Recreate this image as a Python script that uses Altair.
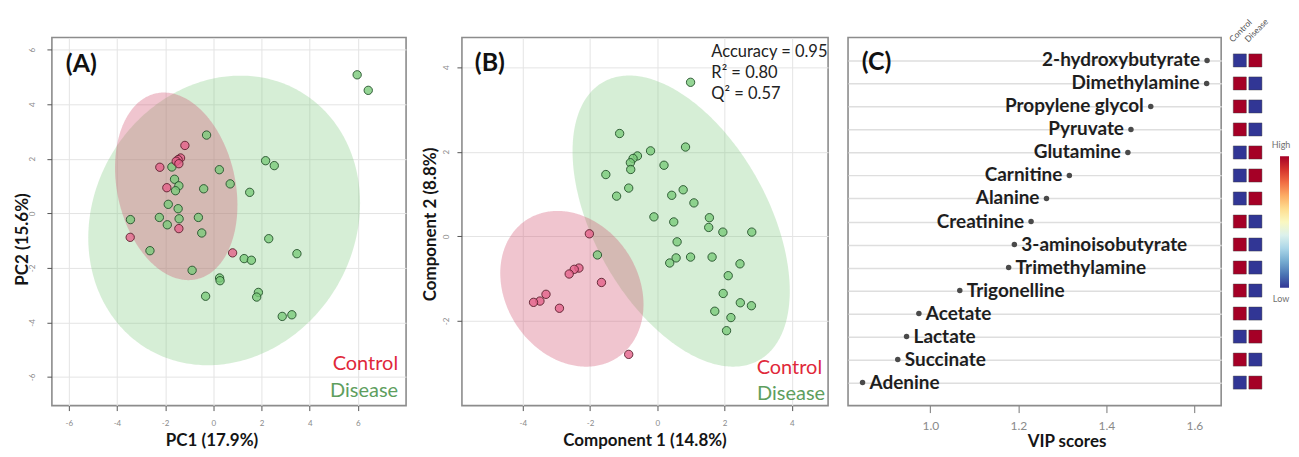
import numpy as np
import pandas as pd
import altair as alt

FONT = "Lato"

# ---------------- Panel A (PCA scores) ----------------
a_ctrl_x = [-1.18, -1.36, -1.46, -1.54, -1.43, -2.22, -1.93, -1.43, -3.45, 0.80]
a_ctrl_y = [2.49, 2.03, 1.97, 1.91, 1.82, 1.69, 0.94, -0.56, -0.88, -1.45]
a_dis_x = [5.97, 6.43, -0.28, 2.17, 2.53, -1.72, 0.25, -1.61, -1.43, -1.57,
           -0.40, 0.70, 1.51, -1.87, -1.46, -2.24, -1.42, -0.62, -3.44, -1.91,
           -0.48, 2.30, -2.63, 3.47, 1.28, 1.58, -0.88, 0.26, 0.28, 1.87,
           1.80, -0.32, 2.86, 3.26]
a_dis_y = [5.08, 4.51, 2.87, 1.93, 1.75, 1.70, 1.60, 1.25, 1.01, 0.83,
           0.90, 1.08, 0.77, 0.33, 0.17, -0.15, -0.20, -0.15, -0.23, -0.42,
           -0.72, -0.93, -1.37, -1.48, -1.66, -1.72, -2.09, -2.37, -2.47, -2.90,
           -3.07, -3.04, -3.78, -3.72]
# ellipse estimates: centre x, centre y, x half-extent, y half-extent, correlation
a_ell_ctrl = [-1.54, 0.99, 2.54, 3.44, -0.20]
a_ell_dis = [0.45, -0.26, 5.64, 5.31, 0.12]

# ---------------- Panel B (PLS-DA scores) ----------------
b_ctrl_x = [-2.02, -1.66, -2.33, -2.47, -2.62, -3.31, -3.49, -3.68, -2.91, -0.85]
b_ctrl_y = [0.06, -1.09, -0.75, -0.78, -0.89, -1.37, -1.53, -1.56, -1.70, -2.79]
b_dis_x = [0.99, -1.12, 0.84, -0.20, -0.59, -0.72, -0.80, -0.79, 0.20, -1.53,
           -0.85, -1.21, 0.43, 0.77, 1.09, -0.10, 1.55, 0.49, 1.53, 1.95,
           2.81, 0.59, -1.78, 0.56, 0.99, 0.37, 1.63, 2.46, 2.11, 1.96,
           2.47, 2.80, 1.71, 2.19, 2.06]
b_dis_y = [3.64, 2.43, 2.11, 2.02, 1.90, 1.84, 1.74, 1.58, 1.68, 1.46,
           1.14, 0.95, 0.97, 1.10, 0.79, 0.46, 0.44, 0.34, 0.21, 0.10,
           0.10, -0.13, -0.44, -0.51, -0.49, -0.63, -0.49, -0.65, -0.93, -1.35,
           -1.57, -1.64, -1.77, -1.92, -2.23]
b_ell_ctrl = [-2.54, -1.24, 2.13, 1.84, -0.20]
b_ell_dis = [0.71, 0.36, 3.23, 3.44, -0.48]
b_stats = ["Accuracy = 0.95", "R\u00b2 = 0.80", "Q\u00b2 = 0.57"]

# ---------------- Panel C (VIP scores) ----------------
metabolites = ["2-hydroxybutyrate", "Dimethylamine", "Propylene glycol", "Pyruvate",
               "Glutamine", "Carnitine", "Alanine", "Creatinine", "3-aminoisobutyrate",
               "Trimethylamine", "Trigonelline", "Acetate", "Lactate", "Succinate", "Adenine"]
vip = [1.629, 1.628, 1.501, 1.456, 1.449, 1.316, 1.264, 1.229, 1.191,
       1.178, 1.067, 0.974, 0.946, 0.926, 0.846]
control_level = [0, 1, 1, 1, 0, 0, 0, 1, 1, 1, 1, 1, 0, 1, 0]
disease_level = [1, 0, 0, 0, 1, 1, 1, 0, 0, 0, 0, 0, 1, 0, 1]
groups = ["Control", "Disease"]


def ellipse(p, n=181):
    cx, cy, sx, sy, rho = p
    t = np.linspace(0.0, np.pi, n)
    c = np.cos(t)
    s = np.sin(t)
    k = np.sqrt(1.0 - rho ** 2)
    return pd.DataFrame({"x": cx + sx * c,
                         "y": cy + sy * (rho * c + k * s),
                         "y2": cy + sy * (rho * c - k * s)})


def points(cx, cy, dx, dy):
    return pd.DataFrame({"x": list(dx) + list(cx), "y": list(dy) + list(cy),
                         "group": ["Disease"] * len(dx) + ["Control"] * len(cx)})


def label(txt, px, py, size, color, align="left", weight="normal"):
    return alt.Chart(pd.DataFrame({"t": [txt]})).mark_text(
        align=align, baseline="middle", fontSize=size, font=FONT,
        color=color, fontWeight=weight).encode(
        text="t:N", x=alt.value(px), y=alt.value(py))


pt_fill = alt.Scale(domain=groups, range=["#e3628a", "#7acb7a"])
pt_stroke = alt.Scale(domain=groups, range=["#5a1f2c", "#24502a"])

H = 369
TITLE = 17


def scatter_panel(pts_df, ell_dis, ell_ctrl, xdom, ydom, xvals, yvals, xtitle, ytitle,
                  y_ext, y_lp, x_ext, x_lp, x_title_x, y_title_y):
    xs = alt.Scale(domain=xdom, nice=False, zero=False)
    ys = alt.Scale(domain=ydom, nice=False, zero=False)
    common = dict(grid=True, gridColor="#e4e4e4", gridWidth=1, domain=False,
                  ticks=True, tickColor="#555555", tickSize=5, tickWidth=1,
                  labelColor="#8a8a8a", labelFontSize=8, labelFont=FONT,
                  titleFont=FONT, titleFontSize=TITLE, titleFontWeight="bold",
                  titleColor="#151515", titlePadding=0,
                  labelExpr="replace(datum.label, '\u2212', '-')")
    xax = alt.Axis(values=xvals, title=xtitle, labelPadding=x_lp, titleX=x_title_x,
                   minExtent=x_ext, maxExtent=x_ext, **common)
    yax = alt.Axis(values=yvals, title=ytitle, labelAngle=270, labelAlign="center",
                   labelBaseline="bottom", labelPadding=y_lp, titleY=y_title_y,
                   minExtent=y_ext, maxExtent=y_ext, **common)
    dis_area = alt.Chart(ellipse(ell_dis)).mark_area(color="#78c878", opacity=0.30).encode(
        x=alt.X("x:Q", scale=xs, axis=xax), y=alt.Y("y:Q", scale=ys, axis=yax), y2="y2:Q")
    ctrl_area = alt.Chart(ellipse(ell_ctrl)).mark_area(color="#d2506e", opacity=0.33).encode(
        x="x:Q", y="y:Q", y2="y2:Q")
    pts = alt.Chart(pts_df).mark_circle(size=70, fillOpacity=0.8, strokeOpacity=0.9,
                                        strokeWidth=1).encode(
        x="x:Q", y="y:Q",
        fill=alt.Fill("group:N", scale=pt_fill, legend=None),
        stroke=alt.Stroke("group:N", scale=pt_stroke, legend=None))
    return [dis_area, ctrl_area, pts]


# Panel A
A_layers = scatter_panel(points(a_ctrl_x, a_ctrl_y, a_dis_x, a_dis_y),
                         a_ell_dis, a_ell_ctrl, [-6.7, 8.0], [-7.05, 6.45],
                         [-6, -4, -2, 0, 2, 4, 6], [-6, -4, -2, 0, 2, 4, 6],
                         "PC1 (17.9%)", "PC2 (15.6%)", 20, 10, 27, 9, 160, 202)
A = alt.layer(*A_layers,
              label("(A)", 29.5, 27, 25, "#111111", "center", "bold"),
              label("Control", 347, 327, 20, "#e0283a", "right"),
              label("Disease", 347, 354, 20, "#5e9e5e", "right")
              ).properties(width=355, height=H)

# Panel B
B_layers = scatter_panel(points(b_ctrl_x, b_ctrl_y, b_dis_x, b_dis_y),
                         b_ell_dis, b_ell_ctrl, [-5.81, 5.08], [-4.0, 4.7],
                         [-4, -2, 0, 2, 4], [-2, 0, 2, 4],
                         "Component 1 (14.8%)", "Component 2 (8.8%)", 23, 6, 27, 9,
                         183, 187)
B = alt.layer(*B_layers,
              label("(B)", 28, 26, 25, "#111111", "center", "bold"),
              label(b_stats[0], 250, 15, 16.5, "#222222"),
              label(b_stats[1], 250, 36, 16.5, "#222222"),
              label(b_stats[2], 250, 57, 16.5, "#222222"),
              label("Control", 361, 331, 20, "#e0283a", "right"),
              label("Disease", 364, 357, 20, "#5e9e5e", "right")
              ).properties(width=367, height=H)

# Panel C
vip_df = pd.DataFrame({"metabolite": metabolites, "vip": vip, "idx": list(range(len(vip)))})
yc = alt.Scale(type="point", domain=metabolites, padding=1)
xc = alt.Scale(domain=[0.813, 1.661], nice=False, zero=False)
c_base = alt.Chart(vip_df)
c_dots = c_base.mark_circle(size=30, color="#4a4a4a", opacity=1).encode(
    x=alt.X("vip:Q", scale=xc,
            axis=alt.Axis(values=[1.0, 1.2, 1.4, 1.6], format=".1f", title="VIP scores",
                          grid=False, domain=False, tickColor="#777777", tickSize=7,
                          labelFontSize=12, labelColor="#8a8a8a", labelPadding=8,
                          labelFont=FONT, titleFont=FONT, titleFontSize=TITLE,
                          titleFontWeight="bold", titleColor="#151515", titlePadding=0,
                          titleX=219, minExtent=28, maxExtent=28)),
    y=alt.Y("metabolite:N", scale=yc,
            axis=alt.Axis(title=None, labels=False, ticks=False, domain=False, grid=True,
                          gridColor="#dedede", gridWidth=1.5)))
c_lab_l = c_base.transform_filter(alt.datum.idx < 8).mark_text(
    align="right", baseline="middle", dx=-7, fontSize=19, fontWeight="bold",
    font=FONT, color="#1e1e1e").encode(x="vip:Q", y="metabolite:N", text="metabolite:N")
c_lab_r = c_base.transform_filter(alt.datum.idx >= 8).mark_text(
    align="left", baseline="middle", dx=7, fontSize=19, fontWeight="bold",
    font=FONT, color="#1e1e1e").encode(x="vip:Q", y="metabolite:N", text="metabolite:N")
C = alt.layer(c_dots, c_lab_l, c_lab_r,
              label("(C)", 28.5, 25, 25, "#111111", "center", "bold")
              ).properties(width=374, height=H)

# Heat map of group levels
heat_df = pd.DataFrame({"metabolite": metabolites * 2,
                        "group": ["Control"] * len(metabolites) + ["Disease"] * len(metabolites),
                        "level": control_level + disease_level})
hx = alt.Scale(type="point", domain=groups, range=[-1.3, 14.3], padding=0)
heat_sq = alt.Chart(heat_df).mark_square(size=172, opacity=1, stroke="#3a3a3a",
                                         strokeWidth=0.4).encode(
    x=alt.X("group:N", scale=hx, axis=None),
    y=alt.Y("metabolite:N", scale=alt.Scale(type="point", domain=metabolites, padding=1),
            axis=None),
    color=alt.Color("level:Q", scale=alt.Scale(domain=[0, 1], scheme="redyellowblue",
                                               reverse=True),
                    legend=alt.Legend(orient="none", legendX=39, legendY=119,
                                      direction="vertical", title=None,
                                      labelExpr="''", labelOpacity=0, labelFontSize=1,
                                      gradientLength=132, gradientThickness=9,
                                      gradientStrokeWidth=0)))
heat_lab = alt.Chart(pd.DataFrame({"group": groups})).mark_text(
    angle=315, align="left", baseline="bottom", dx=-8, fontSize=8.5, font=FONT,
    color="#555555").encode(x=alt.X("group:N", scale=hx, axis=None), y=alt.value(1),
                            text="group:N")
Hm = alt.layer(heat_sq, heat_lab,
               label("High", 40, 108, 9, "#707070", "center"),
               label("Low", 40, 262, 9, "#707070", "center")
               ).properties(width=30, height=H, view=alt.ViewBackground(strokeOpacity=0))

spacer = alt.Chart(pd.DataFrame({"v": [0]})).mark_point(opacity=0).encode(
    x=alt.X("v:Q", axis=None), y=alt.Y("v:Q", axis=None)
).properties(width=16, height=H, view=alt.ViewBackground(strokeOpacity=0))

chart = alt.hconcat(A, spacer, B, C, Hm, spacing=20, bounds="flush").resolve_scale(
    x="independent", y="independent", color="independent", fill="independent",
    stroke="independent").resolve_legend(color="independent").properties(
    padding={"left": 5, "top": 8, "right": 0, "bottom": 0}
).configure(font=FONT).configure_view(stroke="#8c8c8c", strokeWidth=1.6)

chart.save("out.html", embed_options={"renderer": "svg", "actions": False})
